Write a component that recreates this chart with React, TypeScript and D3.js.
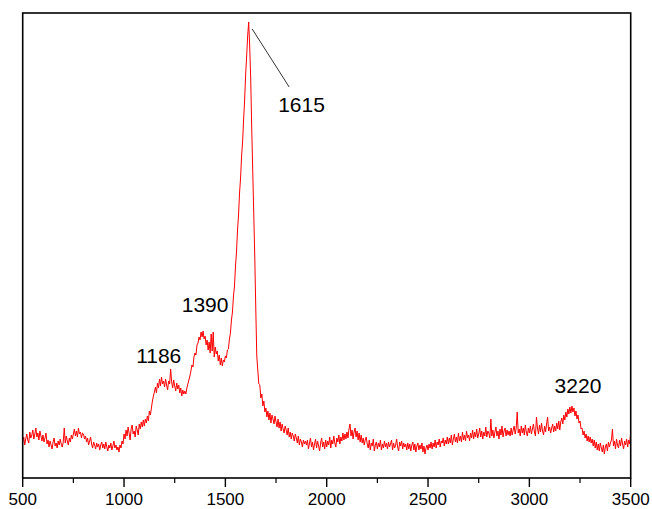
import React from "react";
import * as d3 from "d3";

// Raman shift grid start / step (cm-1)
const SHIFT_START = 500;
const SHIFT_STEP = 5;

// Intensity (arbitrary units), one row per 100 cm-1
const intensity: number[] = [
  // 500
  36, 41, 33, 39, 44, 38, 35, 46, 40, 43, 48, 39, 44, 50, 41, 45, 38, 47, 42, 37,
  // 600
  43, 36, 40, 45, 34, 38, 31, 37, 33, 29, 36, 40, 32, 35, 30, 37, 33, 39, 34, 31,
  // 700
  36, 50, 35, 42, 37, 33, 40, 36, 43, 39, 44, 49, 42, 47, 41, 50, 44, 46, 40, 45,
  // 800
  44, 39, 42, 36, 40, 33, 37, 41, 34, 30, 36, 33, 29, 35, 31, 34, 28, 33, 36, 30,
  // 900
  34, 29, 36, 31, 27, 33, 30, 35, 28, 32, 37, 30, 33, 28, 31, 26, 33, 30, 37, 34,
  // 1000
  44, 39, 48, 42, 51, 45, 38, 49, 53, 44, 47, 41, 52, 48, 43, 54, 49, 56, 51, 58,
  // 1100
  52, 59, 55, 62, 57, 67, 63, 70, 77, 82, 86, 91, 85, 95, 90, 99, 92, 101, 94, 97,
  // 1200
  91, 99, 93, 88, 97, 94, 109, 96, 90, 98, 92, 87, 95, 89, 93, 85, 90, 82, 88, 84,
  // 1300
  87, 84, 90, 94, 98, 102, 107, 113, 111, 121, 125, 123, 133, 135, 141, 138, 146, 141, 147, 139,
  // 1400
  142, 133, 138, 128, 136, 125, 144, 127, 146, 121, 131, 124, 127, 117, 123, 113, 120, 112, 118, 116,
  // 1500
  122, 120, 128, 129, 139, 145, 158, 166, 182, 192, 212, 226, 248, 263, 285, 300, 322, 336, 358, 378,
  // 1600
  403, 422, 442, 456, 432, 400, 350, 308, 265, 222, 170, 122, 108, 94, 93, 80, 84, 72, 77, 66,
  // 1700
  70, 61, 67, 58, 65, 55, 63, 59, 54, 62, 56, 51, 59, 50, 56, 47, 54, 49, 45, 52,
  // 1800
  48, 43, 50, 41, 46, 39, 45, 42, 37, 44, 40, 35, 42, 33, 39, 36, 31, 38, 34, 37,
  // 1900
  33, 38, 29, 35, 40, 31, 36, 28, 34, 39, 30, 37, 32, 27, 35, 40, 31, 36, 29, 38,
  // 2000
  31, 37, 33, 41, 30, 38, 34, 42, 35, 31, 40, 36, 43, 34, 41, 37, 45, 38, 44, 39,
  // 2100
  46, 40, 49, 54, 42, 48, 39, 46, 50, 41, 47, 38, 45, 36, 43, 35, 40, 33, 38, 41,
  // 2200
  34, 30, 38, 28, 35, 32, 39, 27, 33, 36, 29, 35, 31, 38, 28, 34, 30, 37, 31, 35,
  // 2300
  29, 36, 31, 34, 38, 28, 35, 30, 33, 39, 31, 27, 36, 32, 37, 29, 35, 31, 34, 28,
  // 2400
  35, 29, 34, 27, 33, 36, 28, 34, 26, 32, 35, 28, 33, 29, 35, 26, 32, 24, 30, 33,
  // 2500
  28, 34, 30, 36, 29, 35, 31, 38, 30, 36, 33, 39, 31, 37, 35, 40, 32, 38, 34, 41,
  // 2600
  34, 40, 35, 43, 33, 39, 44, 36, 41, 35, 45, 37, 42, 36, 46, 38, 43, 37, 47, 40,
  // 2700
  43, 37, 45, 40, 48, 39, 46, 41, 49, 40, 44, 50, 41, 47, 39, 46, 42, 51, 41, 47,
  // 2800
  45, 40, 59, 42, 48, 40, 46, 51, 42, 47, 39, 49, 43, 52, 41, 47, 50, 42, 48, 43,
  // 2900
  47, 42, 50, 43, 48, 52, 44, 50, 66, 45, 49, 42, 52, 45, 50, 43, 53, 46, 42, 50,
  // 3000
  45, 52, 44, 49, 54, 46, 42, 61, 50, 44, 53, 46, 55, 47, 43, 52, 46, 54, 61, 47,
  // 3100
  51, 45, 50, 54, 46, 52, 47, 55, 49, 57, 48, 56, 60, 54, 63, 58, 66, 61, 69, 64,
  // 3200
  71, 65, 72, 66, 70, 62, 67, 59, 63, 55, 57, 49, 50, 43, 47, 40, 44, 37, 42, 36,
  // 3300
  41, 35, 39, 32, 38, 30, 36, 28, 34, 27, 35, 30, 26, 33, 24, 31, 34, 27, 36, 31,
  // 3400
  35, 38, 49, 32, 37, 29, 39, 33, 30, 38, 32, 40, 34, 29, 37, 33, 39, 31, 38, 34,
  // 3500
  46,
];

const ramanShift: number[] = intensity.map((_, i) => SHIFT_START + i * SHIFT_STEP);

const xDomain: [number, number] = [500, 3500];
const yDomain: [number, number] = [0, 465];
const majorTicks: number[] = [500, 1000, 1500, 2000, 2500, 3000, 3500];
const minorTicks: number[] = [750, 1250, 1750, 2250, 2750, 3250];

// Peak annotations: label text, peak position, peak intensity
const peakLabels: string[] = ["1186", "1390", "1615", "3220"];
const peakShifts: number[] = [1186, 1390, 1615, 3220];
const peakHeights: number[] = [97, 145, 456, 70];

// Layout (pixel offsets of labels relative to their peaks)
const labelLayout: Record<string, { dx: number; dy: number; anchor: string }> = {
  "1186": { dx: -3, dy: -18, anchor: "middle" },
  "1390": { dx: 2, dy: -21, anchor: "middle" },
  "1615": { dx: 29.5, dy: 90, anchor: "start" },
  "3220": { dx: 4, dy: -15, anchor: "middle" },
};

const W = 652;
const H = 509;
const L = 22.7;
const R = 630.7;
const T = 13;
const B = 478;

export default function App() {
  const x = d3.scaleLinear().domain(xDomain).range([L, R]);
  const y = d3.scaleLinear().domain(yDomain).range([B, T]);

  const pts: [number, number][] = ramanShift.map((s, i) => [s, intensity[i]]);
  const line = d3
    .line<[number, number]>()
    .x((d) => x(d[0]))
    .y((d) => y(d[1]));

  const font = "'Liberation Sans', Arial, sans-serif";

  const p1615 = peakShifts[2];
  const h1615 = peakHeights[2];

  return (
    <svg
      width={W}
      height={H}
      style={{ position: "absolute", left: 0, top: 0, background: "#fff" }}
    >
      <rect x={0} y={0} width={W} height={H} fill="#fff" />
      <path d={line(pts) || ""} fill="none" stroke="#ff0000" strokeWidth={1} strokeLinejoin="round" />
      {/* annotation leader for 1615 */}
      <line
        x1={x(p1615) + 3.5}
        y1={y(h1615) + 7}
        x2={x(p1615) + 40.5}
        y2={y(h1615) + 65}
        stroke="#333"
        strokeWidth={1}
      />
      {/* frame */}
      <rect x={L} y={T} width={R - L} height={B - T} fill="none" stroke="#000" strokeWidth={1.6} />
      {majorTicks.map((t) => (
        <g key={"M" + t}>
          <line x1={x(t)} x2={x(t)} y1={B} y2={B + 9} stroke="#000" strokeWidth={1.4} />
          <text
            x={x(t)}
            y={505}
            textAnchor="middle"
            fontFamily={font}
            fontSize={17}
            fill="#000"
          >
            {t}
          </text>
        </g>
      ))}
      {minorTicks.map((t) => (
        <line key={"m" + t} x1={x(t)} x2={x(t)} y1={B} y2={B + 5} stroke="#000" strokeWidth={1.2} />
      ))}
      {peakLabels.map((lab, i) => {
        const lay = labelLayout[lab];
        return (
          <text
            key={lab}
            x={x(peakShifts[i]) + lay.dx}
            y={y(peakHeights[i]) + lay.dy}
            textAnchor={lay.anchor as any}
            fontFamily={font}
            fontSize={21}
            fill="#000"
          >
            {lab}
          </text>
        );
      })}
    </svg>
  );
}
